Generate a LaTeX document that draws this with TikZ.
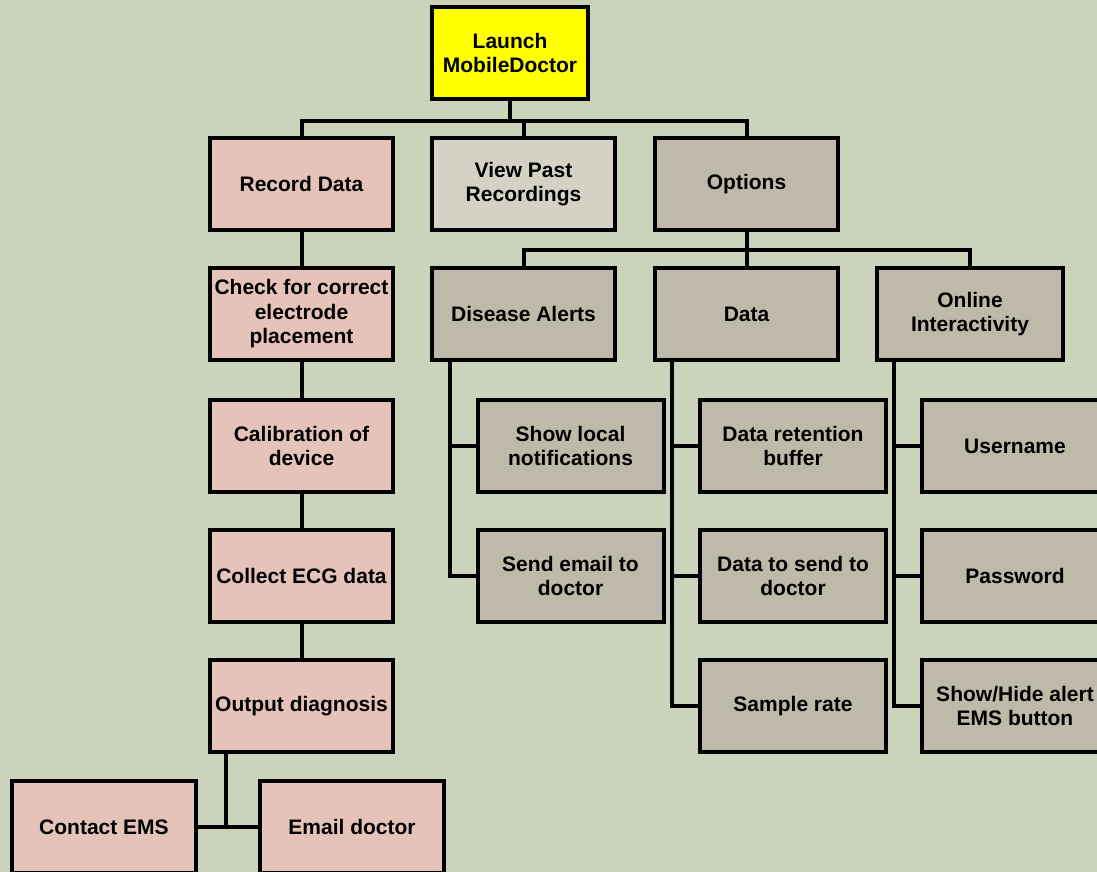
\documentclass[tikz,border=0pt]{standalone}
\usepackage{fontspec}
\setmainfont{Liberation Sans}
\usetikzlibrary{calc}
\definecolor{bgc}{RGB}{204,211,187}
\definecolor{pinkc}{RGB}{230,195,185}
\definecolor{grayc}{RGB}{191,185,170}
\definecolor{lgrayc}{RGB}{211,210,197}
\definecolor{yelc}{RGB}{255,255,0}
\begin{document}
\begin{tikzpicture}[x=1pt,y=-1pt,
  box/.style={draw=black,line width=4pt,rectangle,minimum width=183pt,minimum height=92pt,
    align=center,inner sep=0pt,font=\fontsize{21}{24.5}\selectfont\bfseries,text=black},
  pinkbox/.style={box,fill=pinkc},
  graybox/.style={box,fill=grayc,minimum width=186pt},
  conn/.style={line width=4pt,draw=black}]
\fill[bgc] (0,0) rectangle (1097,872);
\useasboundingbox (0,0) rectangle (1097,872);
\clip (0,0) rectangle (1097,872);
% nodes
\node[box,fill=yelc,minimum width=156pt] (launch) at (510,53) {Launch\\MobileDoctor};
\node[pinkbox] (rec) at (301.5,184) {Record Data};
\node[box,fill=lgrayc] (view) at (523.5,184) {View Past\\Recordings};
\node[box,fill=grayc] (opt) at (746.5,184) {Options};
\node[box,fill=grayc] (da) at (523.5,314) {Disease Alerts};
\node[box,fill=grayc] (data) at (746.5,314) {Data};
\node[graybox] (oi) at (970,314) {Online\\Interactivity};
\node[pinkbox] (chk) at (301.5,314) {Check for correct\\electrode\\placement};
\node[pinkbox] (cal) at (301.5,446) {Calibration of\\device};
\node[pinkbox] (ecg) at (301.5,576) {Collect ECG data};
\node[pinkbox] (od) at (301.5,706) {Output diagnosis};
\node[pinkbox,minimum width=184pt] (ems) at (104,827) {Contact EMS};
\node[pinkbox,minimum width=184pt] (emd) at (352,827) {Email doctor};
\node[graybox] (sln) at (570.5,446) {Show local\\notifications};
\node[graybox] (sed) at (570.5,576) {Send email to\\doctor};
\node[graybox] (drb) at (793,446) {Data retention\\buffer};
\node[graybox] (dsd) at (793,576) {Data to send to\\doctor};
\node[graybox] (sr) at (793,706) {Sample rate};
\node[graybox] (usr) at (1015,446) {Username};
\node[graybox] (pwd) at (1015,576) {Password};
\node[graybox] (shb) at (1015,706) {Show/Hide alert\\EMS button};
% connector anchors
\coordinate (bus1) at (510,121);
\coordinate (bus2) at (746.5,250);
\coordinate (odT) at ($(od.south west)+(18,0)$);
\coordinate (daT) at ($(da.south west)+(20,0)$);
\coordinate (dataT) at ($(data.south west)+(19,0)$);
\coordinate (oiT) at ($(oi.south west)+(19,0)$);
% connectors
\draw[conn] (launch.south) -- (bus1);
\draw[conn] (rec.north) |- (bus1) -| (opt.north);
\draw[conn] (view.north) -- (view.north |- bus1);
\draw[conn] (opt.south) -- (bus2);
\draw[conn] (da.north) |- (bus2) -| (oi.north);
\draw[conn] (data.north) -- (bus2);
\draw[conn] (rec.south) -- (chk.north);
\draw[conn] (chk.south) -- (cal.north);
\draw[conn] (cal.south) -- (ecg.north);
\draw[conn] (ecg.south) -- (od.north);
\draw[conn] (odT) |- (ems.east);
\draw[conn] (ems.east) -- (emd.west);
\draw[conn] (daT) |- (sed.west);
\draw[conn] (daT |- sln.west) -- (sln.west);
\draw[conn] (dataT) |- (sr.west);
\draw[conn] (dataT |- drb.west) -- (drb.west);
\draw[conn] (dataT |- dsd.west) -- (dsd.west);
\draw[conn] (oiT) |- (shb.west);
\draw[conn] (oiT |- usr.west) -- (usr.west);
\draw[conn] (oiT |- pwd.west) -- (pwd.west);
\end{tikzpicture}
\end{document}
